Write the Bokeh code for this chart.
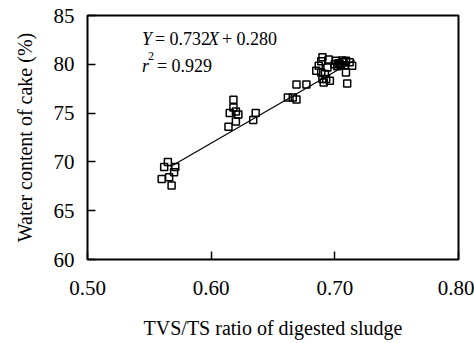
from bokeh.plotting import figure
from bokeh.models import Label, NumeralTickFormatter, FixedTicker, Range1d
from bokeh.embed import file_html
from bokeh.resources import INLINE

# ---- data ----
tvs_ratio = [0.562, 0.565, 0.571, 0.570, 0.566, 0.560, 0.568,
             0.618, 0.618, 0.615, 0.620, 0.622, 0.620, 0.614, 0.636, 0.634,
             0.662, 0.666, 0.669, 0.669, 0.677,
             0.690, 0.689, 0.687, 0.685, 0.689, 0.694, 0.692, 0.693, 0.690, 0.696, 0.691, 0.695,
             0.701, 0.703, 0.705, 0.707, 0.702, 0.706, 0.704, 0.708, 0.709, 0.714, 0.709, 0.710, 0.712, 0.700]
water_content = [69.47, 69.98, 69.47, 68.95, 68.44, 68.26, 67.58,
                 76.36, 75.57, 75.02, 75.16, 74.85, 74.13, 73.61, 75.02, 74.30,
                 76.60, 76.60, 76.39, 77.93, 77.93,
                 80.71, 80.30, 79.86, 79.34, 79.17, 79.68, 79.00, 78.49, 78.49, 78.31, 78.14, 80.50,
                 80.37, 80.10, 79.90, 80.20, 79.80, 80.40, 80.00, 79.90, 80.37, 79.86, 79.17, 78.03, 80.20, 80.00]
fit_slope = 0.732
fit_intercept = 0.280
fit_x = [0.567, 0.716]
x_ticks = [0.50, 0.60, 0.70, 0.80]
y_ticks = [60, 65, 70, 75, 80, 85]

FONT = "Liberation Serif"

p = figure(width=474, height=343, x_range=Range1d(0.5, 0.8), y_range=Range1d(60, 85),
           output_backend="svg", toolbar_location=None,
           min_border_left=87, min_border_right=16, min_border_top=15, min_border_bottom=84)
p.background_fill_color = "white"
p.border_fill_color = "white"
p.outline_line_color = "black"
p.outline_line_width = 2
p.grid.visible = False

p.xaxis.ticker = FixedTicker(ticks=x_ticks)
p.yaxis.ticker = FixedTicker(ticks=y_ticks)
p.xaxis.formatter = NumeralTickFormatter(format="0.00")
p.yaxis.formatter = NumeralTickFormatter(format="0")

for ax in (p.xaxis[0], p.yaxis[0]):
    ax.axis_line_color = None
    ax.major_tick_in = 8
    ax.major_tick_out = 0
    ax.major_tick_line_color = "black"
    ax.major_tick_line_width = 1.5
    ax.minor_tick_line_color = None
    ax.major_label_text_font = FONT
    ax.major_label_text_font_size = "21px"
    ax.major_label_text_color = "black"
    ax.axis_label_text_font = FONT
    ax.axis_label_text_font_size = "20px"
    ax.axis_label_text_font_style = "normal"
    ax.axis_label_text_color = "black"

p.xaxis.axis_label = "TVS/TS ratio of digested sludge"
p.yaxis.axis_label = "Water content of cake (%)"
p.xaxis.major_label_standoff = 21
p.yaxis.major_label_standoff = 13
p.xaxis.axis_label_standoff = 19
p.yaxis.axis_label_standoff = 15

p.scatter(tvs_ratio, water_content, marker="square", size=7, fill_color=None,
          line_color="black", line_width=1.5)

fit_y = [(fit_slope * xv + fit_intercept) * 100 for xv in fit_x]
p.line(fit_x, fit_y, line_color="black", line_width=1.2)

def lab(text, x, y, xoff, size="18px", style="normal"):
    p.add_layout(Label(x=x, y=y, x_offset=xoff, text=text, text_font=FONT,
                       text_font_size=size, text_font_style=style, text_color="black",
                       text_baseline="alphabetic", text_align="left"))

x0 = 0.544
lab("Y", x0, 82.63, 0, style="italic")
lab("= 0.732", x0, 82.63, 13)
lab("X", x0, 82.63, 66, style="italic")
lab("+ 0.280", x0, 82.63, 80)
lab("r", x0, 79.86, 0, style="italic")
lab("2", x0, 80.88, 6, size="12px")
lab("= 0.929", x0, 79.86, 15)

open("out.html", "w").write(file_html(p, INLINE))
